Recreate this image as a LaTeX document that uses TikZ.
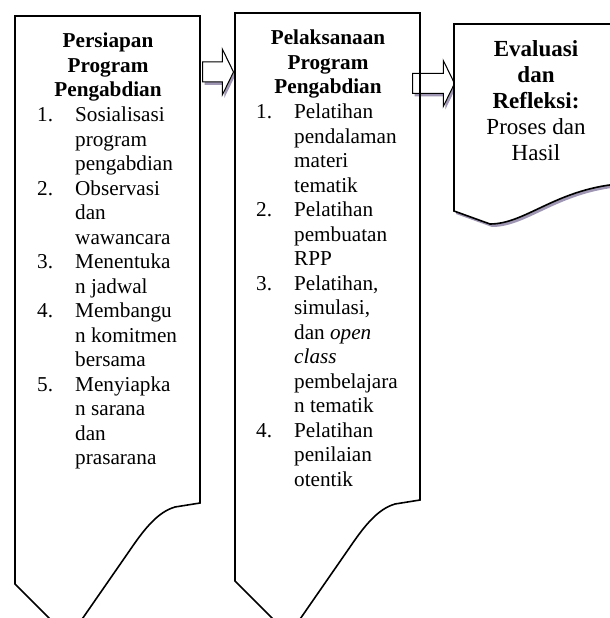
\documentclass[tikz,border=0pt]{standalone}
\usepackage{fontspec}
\setmainfont{Liberation Serif}
\usepackage{tikz}
\usetikzlibrary{shapes.arrows, positioning, shadows}
\definecolor{shadowgray}{RGB}{158,150,178}
\newcommand{\boxfont}{\fontsize{21.2bp}{24.5bp}\selectfont}
\newcommand{\evalfont}{\fontsize{23bp}{26.2bp}\selectfont}
\tikzset{
  stage_box/.style={draw=black, line width=1.6bp, line join=miter},
  word_shadow/.style={drop shadow={shadow xshift=2bp, shadow yshift=-3bp, fill=shadowgray, opacity=1}},
  head_text/.style={font=\boxfont\bfseries, align=center, inner sep=0pt},
  list_text/.style={font=\boxfont, inner sep=0pt, anchor=north west},
  note_text/.style={font=\evalfont, align=center, inner sep=0pt},
  flow_arrow/.style={single arrow, draw=black, line width=1bp, fill=white, inner xsep=0pt, inner ysep=9.5bp,
    single arrow head extend=13bp, single arrow tip angle=128, single arrow head indent=0pt, anchor=tail, word_shadow}
}

\begin{document}
\begin{tikzpicture}[x=1bp, y=-1bp]
  \useasboundingbox (0,0) rectangle (610,618);
  \clip (0,0) rectangle (610,618);

  % --- 1. Tall box with the cut-off bottom (used twice) ---
  \def\tallBox{
    \draw[stage_box] (15,16) -- (200,16) -- (200,503) -- (175,507)
      .. controls (158,512) and (145,528) .. (130,550) -- (69,638) -- (15,584) -- cycle;
  }

  % Box corners and arrow seats
  \coordinate (b1nw) at (15,16);
  \coordinate (b1top) at (108,16);
  \coordinate (b1out) at (200,72);
  \begin{scope}[shift={(220,-3)}]
    \coordinate (b2nw) at (15,16);
    \coordinate (b2top) at (108,16);
    \coordinate (b2out) at (200,86.5);
  \end{scope}
  \coordinate (b3top) at (536,24);

  % --- 2. Flow arrows (under the box outlines) ---
  \node[flow_arrow, minimum height=31bp] (arrow1) at ([xshift=2bp]b1out) {};
  \node[flow_arrow, minimum height=42bp] (arrow2) at ([xshift=-8bp]b2out) {};

  % --- 3. Boxes ---
  \tallBox
  \begin{scope}[shift={(220,-3)}]
    \tallBox
  \end{scope}
  % Evaluation box (wavy bottom, shadow)
  \draw[stage_box, fill=white, word_shadow] (454,24) -- (618,24) -- (618,184)
    .. controls (555,190) and (525,224) .. (490,224) -- (454,211) -- cycle;

  % --- 4. Texts ---
  \node[head_text, below=14.5bp of b1top] (head1) {\strut Persiapan\\Program\\Pengabdian\strut};
  \node[list_text] (list1) at ([xshift=22bp]b1nw |- head1.south) {%
    \begin{tabular}[t]{@{}p{38bp}@{}l@{}}
      1. & Sosialisasi\\
         & program\\
         & pengabdian\\
      2. & Observasi\\
         & dan\\
         & wawancara\\
      3. & Menentuka\\
         & n jadwal\\
      4. & Membangu\\
         & n komitmen\\
         & bersama\\
      5. & Menyiapka\\
         & n sarana\\
         & dan\\
         & prasarana
    \end{tabular}};

  \node[head_text, below=14.5bp of b2top] (head2) {\strut Pelaksanaan\\Program\\Pengabdian\strut};
  \node[list_text] (list2) at ([xshift=21bp]b2nw |- head2.south) {%
    \begin{tabular}[t]{@{}p{38bp}@{}l@{}}
      1. & Pelatihan\\
         & pendalaman\\
         & materi\\
         & tematik\\
      2. & Pelatihan\\
         & pembuatan\\
         & RPP\\
      3. & Pelatihan,\\
         & simulasi,\\
         & dan \textit{open}\\
         & \textit{class}\\
         & pembelajara\\
         & n tematik\\
      4. & Pelatihan\\
         & penilaian\\
         & otentik
    \end{tabular}};

  \node[note_text, below=13.5bp of b3top] (eval) {\strut\textbf{Evaluasi}\\\textbf{dan}\\\textbf{Refleksi:}\\Proses dan\\Hasil};
\end{tikzpicture}
\end{document}
